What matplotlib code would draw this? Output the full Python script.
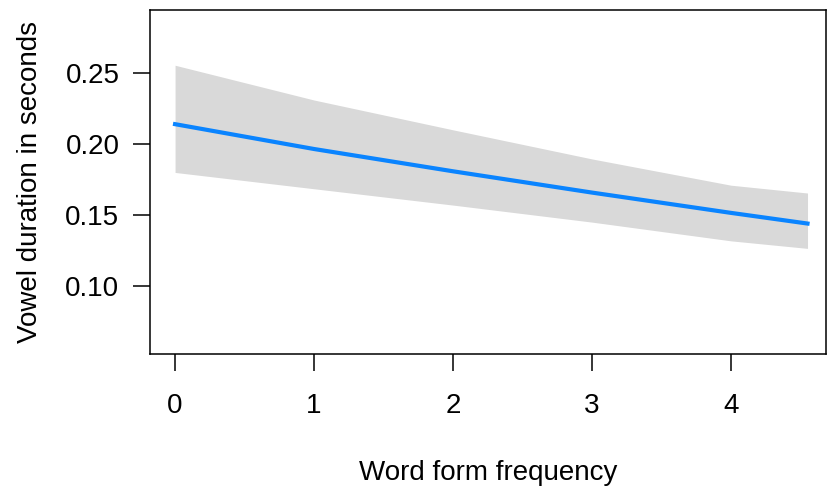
import matplotlib
matplotlib.use("Agg")
import matplotlib.pyplot as plt

# effect of word form frequency on vowel duration
freq = [0, 1, 2, 3, 4, 4.55]
fit = [0.214, 0.1965, 0.1808, 0.1658, 0.1515, 0.1440]
upper = [0.2555, 0.2310, 0.2100, 0.1895, 0.1710, 0.1655]
lower = [0.180, 0.1685, 0.1570, 0.1450, 0.1318, 0.1265]

xticks = [0, 1, 2, 3, 4]
yticks = [0.10, 0.15, 0.20, 0.25]

plt.rcParams['font.family'] = ['Liberation Sans', 'DejaVu Sans']

fig = plt.figure(figsize=(8.34, 4.93), dpi=100)
ax = fig.add_axes([0.1799, 0.2819, 0.8105, 0.6978])

ax.fill_between(freq, lower, upper, color='#d9d9d9', linewidth=0)
ax.plot(freq, fit, color='#0a84ff', linewidth=3)

ax.set_xlim(-0.18, 4.683)
ax.set_ylim(0.0521, 0.2944)
ax.set_xticks(xticks)
ax.set_xticklabels([str(t) for t in xticks])
ax.set_yticks(yticks)
ax.set_yticklabels([f"{t:.2f}" for t in yticks])

for s in ax.spines.values():
    s.set_linewidth(1.1)
ax.tick_params(axis='both', direction='out', length=12, width=1.1, labelsize=20)
ax.tick_params(axis='x', pad=16)
ax.tick_params(axis='y', pad=10)

ax.set_xlabel("Word form frequency", fontsize=20)
ax.set_ylabel("Vowel duration in seconds", fontsize=20)
ax.xaxis.set_label_coords(0.5, -0.346)
ax.yaxis.set_label_coords(-0.1775, 0.5)
ax.xaxis.label.set_va('center')
ax.yaxis.label.set_va('center')

fig.savefig("out.png", dpi=100)
